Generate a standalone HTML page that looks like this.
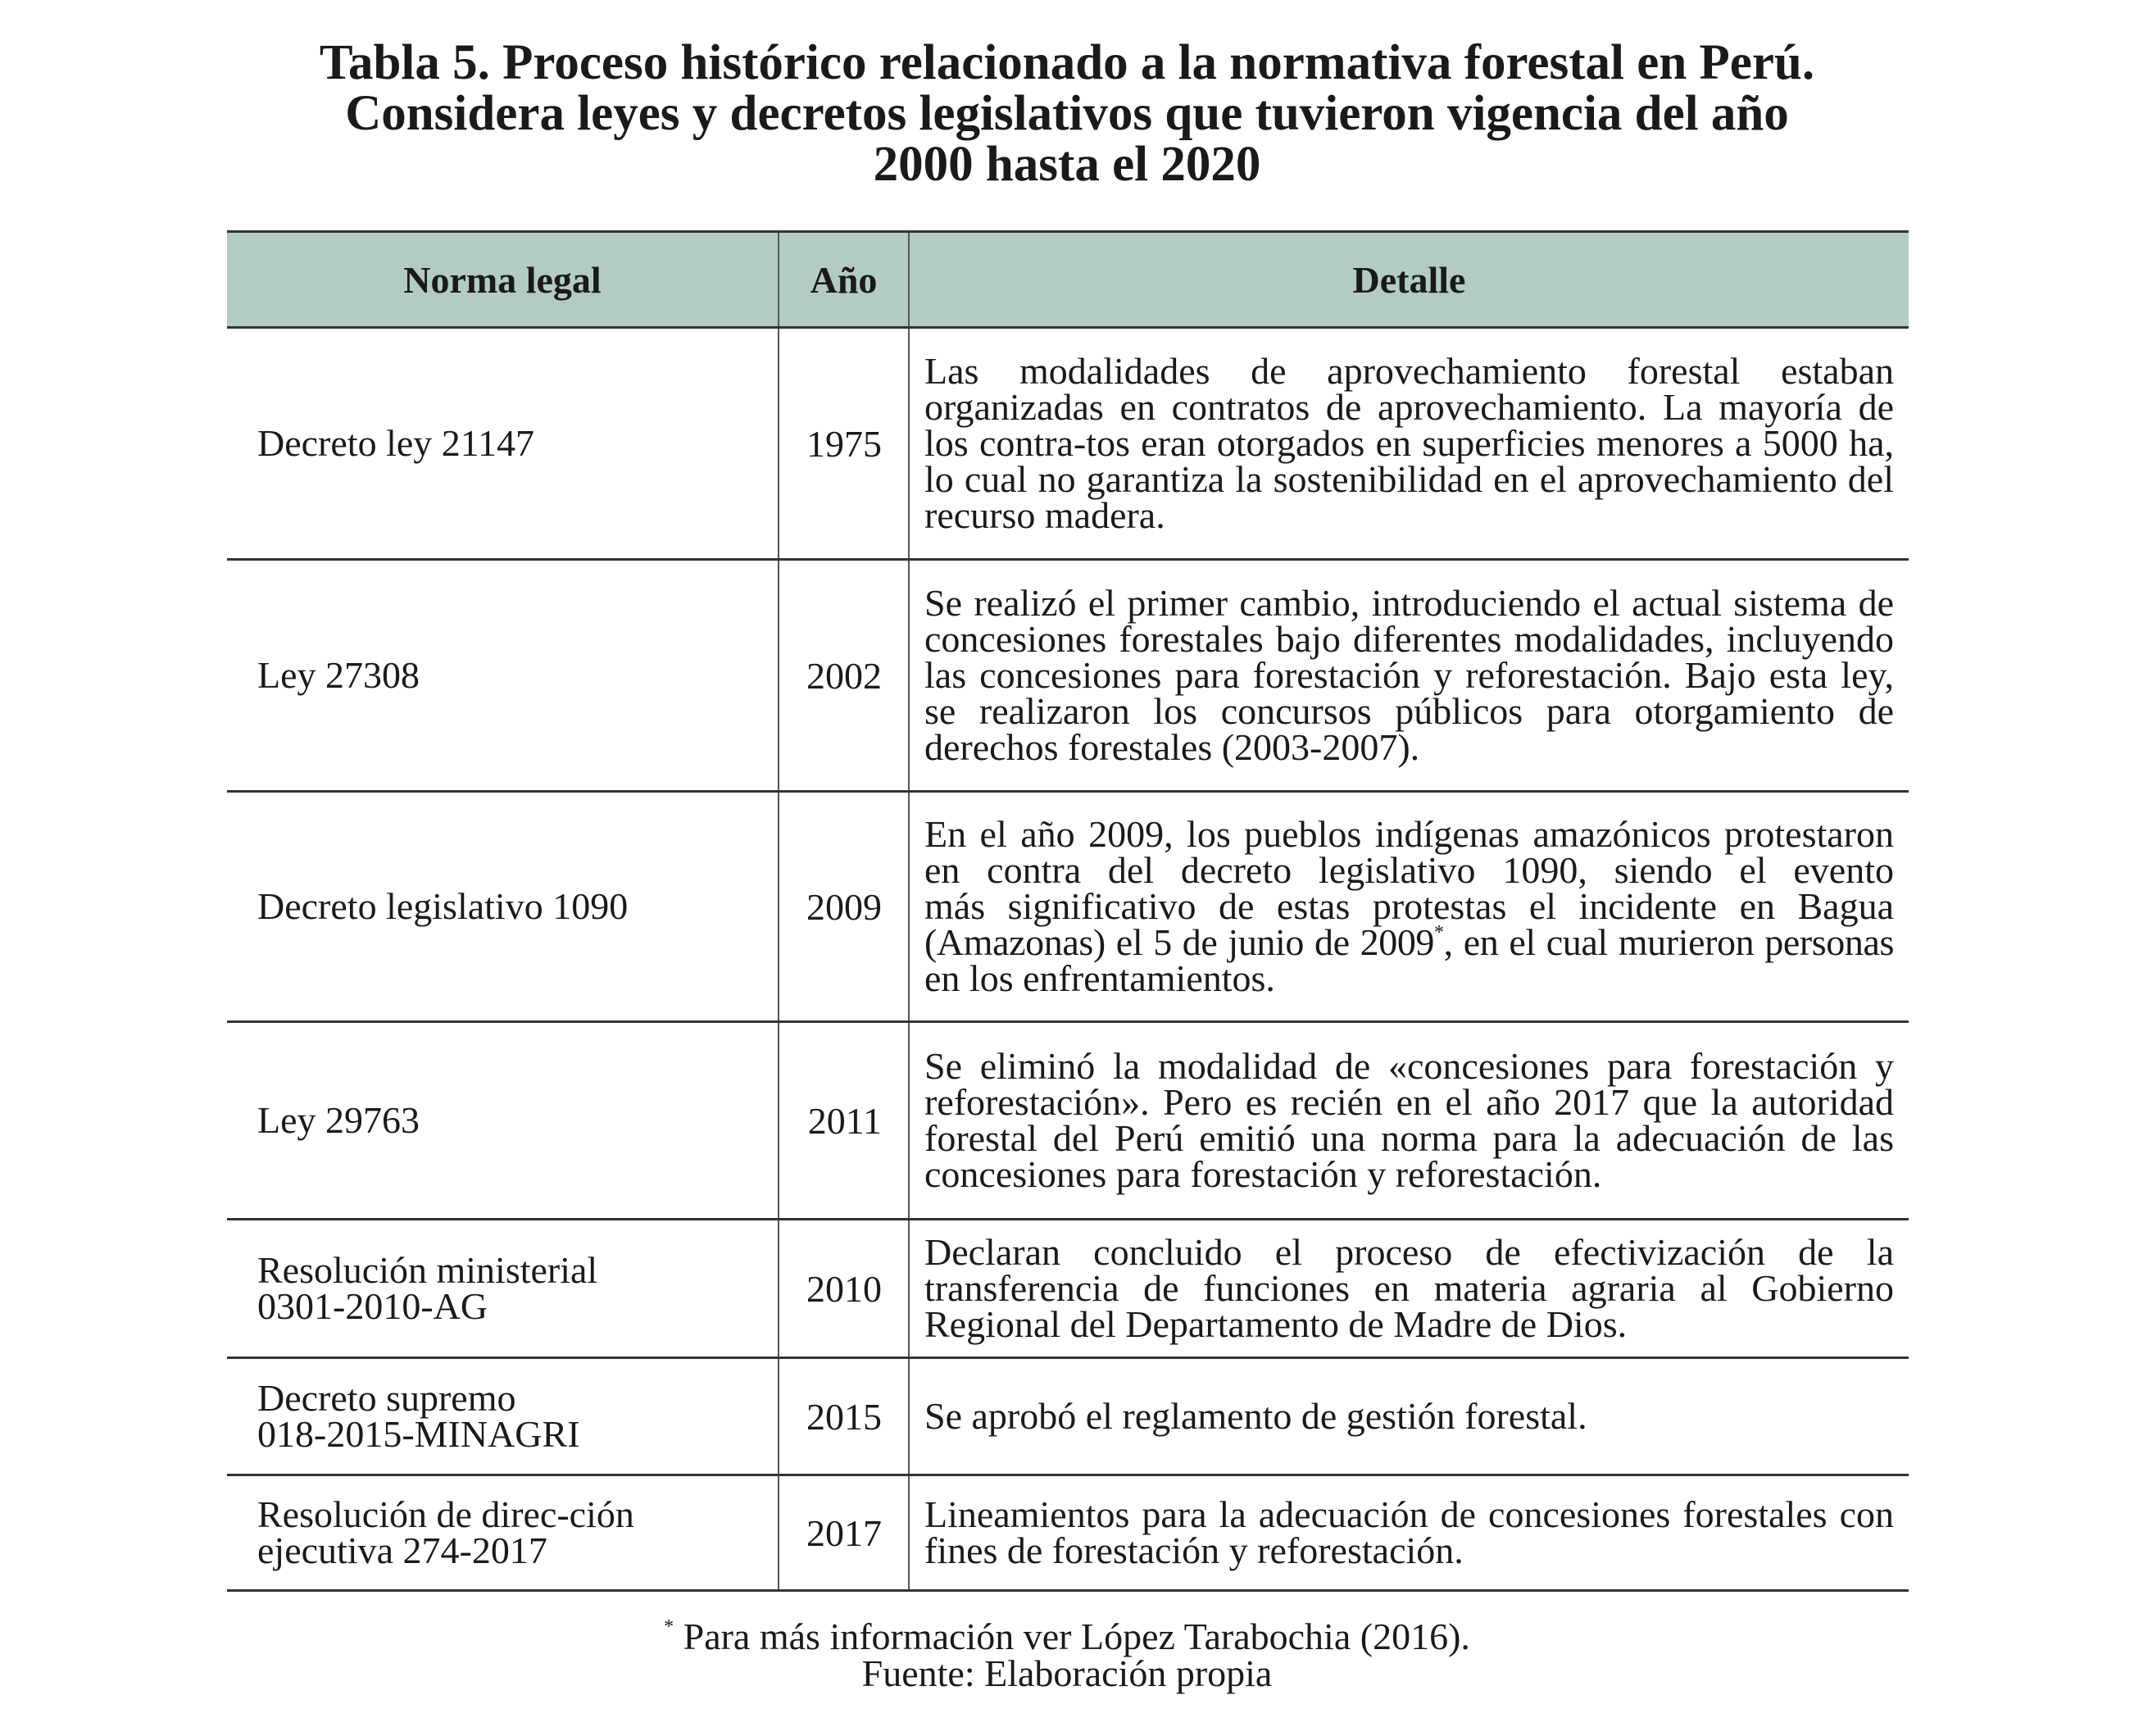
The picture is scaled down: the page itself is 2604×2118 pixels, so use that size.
<!DOCTYPE html>
<html><head><meta charset="utf-8"><style>
html,body{margin:0;padding:0;background:#fff;}
body{width:2604px;height:2118px;position:relative;overflow:hidden;font-family:"Liberation Serif",serif;color:#1a1a1a;}
.title{position:absolute;left:0;top:46px;width:2604px;text-align:center;font-weight:bold;font-size:61px;line-height:62px;}
table{position:absolute;left:277px;top:281px;width:2052px;border-collapse:collapse;table-layout:fixed;font-size:46px;}
td,th{padding:0;vertical-align:middle;border-left:2px solid #555;border-right:2px solid #555;}
td:first-child,th:first-child{border-left:none;}
td:last-child,th:last-child{border-right:none;}
tr{border-bottom:3px solid #333;}
thead tr{border-top:3px solid #333;background:#b3cbc1;}
th{font-size:46px;height:114px;}
td.n{padding-left:37px;line-height:44px;}
td.y{text-align:right;padding-right:32px;}
td.d{padding:0 18px 0 18px;line-height:44px;}
.j{text-align:justify;text-align-last:justify;white-space:nowrap;}
.foot{position:absolute;left:0;top:1974px;width:2604px;text-align:center;font-size:46px;line-height:45px;}
sup{font-size:24px;vertical-align:baseline;position:relative;top:-20px;line-height:0;}
</style></head><body>
<div class="title">Tabla 5. Proceso histórico relacionado a la normativa forestal en Perú.<br>Considera leyes y decretos legislativos que tuvieron vigencia del año<br>2000 hasta el 2020</div>
<table>
<colgroup><col style="width:673px"><col style="width:159px"><col style="width:1220px"></colgroup>
<thead><tr><th>Norma legal</th><th>Año</th><th>Detalle</th></tr></thead>
<tbody>
<tr style="height:283px"><td class="n">Decreto ley 21147</td><td class="y">1975</td><td class="d"><div class="j">Las modalidades de aprovechamiento forestal estaban</div><div class="j">organizadas en contratos de aprovechamiento. La mayoría de</div><div class="j">los contra-tos eran otorgados en superficies menores a 5000 ha,</div><div class="j">lo cual no garantiza la sostenibilidad en el aprovechamiento del</div><div>recurso madera.</div></td></tr>
<tr style="height:283px"><td class="n">Ley 27308</td><td class="y">2002</td><td class="d"><div class="j">Se realizó el primer cambio, introduciendo el actual sistema de</div><div class="j">concesiones forestales bajo diferentes modalidades, incluyendo</div><div class="j">las concesiones para forestación y reforestación. Bajo esta ley,</div><div class="j">se realizaron los concursos públicos para otorgamiento de</div><div>derechos forestales (2003-2007).</div></td></tr>
<tr style="height:281px"><td class="n">Decreto legislativo 1090</td><td class="y">2009</td><td class="d"><div class="j">En el año 2009, los pueblos indígenas amazónicos protestaron</div><div class="j">en contra del decreto legislativo 1090, siendo el evento</div><div class="j">más significativo de estas protestas el incidente en Bagua</div><div class="j" style="letter-spacing:-0.4px">(Amazonas) el 5 de junio de 2009<sup>*</sup>, en el cual murieron personas</div><div>en los enfrentamientos.</div></td></tr>
<tr style="height:241px"><td class="n">Ley 29763</td><td class="y">2011</td><td class="d"><div class="j">Se eliminó la modalidad de «concesiones para forestación y</div><div class="j">reforestación». Pero es recién en el año 2017 que la autoridad</div><div class="j">forestal del Perú emitió una norma para la adecuación de las</div><div>concesiones para forestación y reforestación.</div></td></tr>
<tr style="height:169px"><td class="n">Resolución ministerial<br>0301-2010-AG</td><td class="y">2010</td><td class="d"><div class="j">Declaran concluido el proceso de efectivización de la</div><div class="j">transferencia de funciones en materia agraria al Gobierno</div><div>Regional del Departamento de Madre de Dios.</div></td></tr>
<tr style="height:143px"><td class="n">Decreto supremo<br>018-2015-MINAGRI</td><td class="y">2015</td><td class="d"><div>Se aprobó el reglamento de gestión forestal.</div></td></tr>
<tr style="height:141px"><td class="n">Resolución de direc-ción<br>ejecutiva 274-2017</td><td class="y">2017</td><td class="d"><div class="j">Lineamientos para la adecuación de concesiones forestales con</div><div>fines de forestación y reforestación.</div></td></tr>
</tbody></table>
<div class="foot"><sup>*</sup> Para más información ver López Tarabochia (2016).<br>Fuente: Elaboración propia</div>
</body></html>
